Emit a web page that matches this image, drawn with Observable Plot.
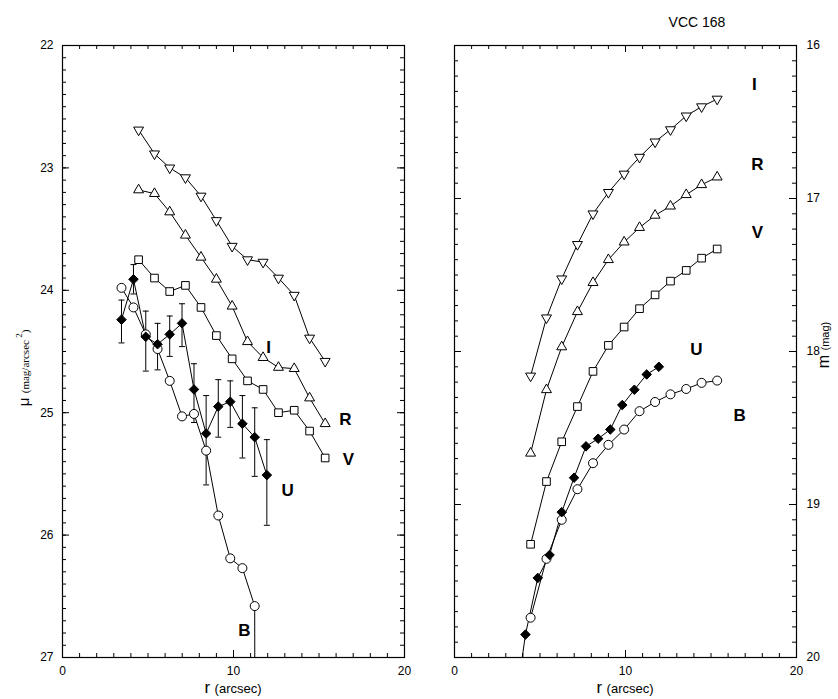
<!DOCTYPE html>
<html>
<head>
<meta charset="utf-8">
<script src="https://cdn.jsdelivr.net/npm/d3@7"></script>
<script src="https://cdn.jsdelivr.net/npm/@observablehq/plot@0.6"></script>
<style>
  body { margin: 0; background: #fff; }
  #chart { position: relative; width: 838px; height: 699px; font-family: "Liberation Sans", Arial, sans-serif; color: #000; overflow: hidden; }
  #chart svg { position: absolute; top: 0; }
  .lbl { position: absolute; white-space: nowrap; line-height: 1; }
  .rot { transform: translate(-50%, -50%) rotate(-90deg); }
  .ctr { transform: translate(-50%, 0); }
</style>
</head>
<body>
<div id="chart"></div>
<script>
// VCC 168 — surface-brightness profiles (left) and growth curves (right) in U, B, V, R, I.

// Radii (arcsec) sampled by the I, R, V profiles and the right-hand B curve
const rIRV = [4.45, 5.38, 6.27, 7.19, 8.10, 9.00, 9.92, 10.82, 11.73, 12.63, 13.55, 14.45, 15.36];
// Radii sampled by the U profiles and the left-hand B profile
const rUB = [3.45, 4.15, 4.87, 5.56, 6.27, 6.99, 7.69, 8.40, 9.11, 9.81, 10.52, 11.24, 11.95];

// Left panel: surface brightness mu (mag/arcsec^2)
const muI = [22.69, 22.885, 23.00, 23.08, 23.23, 23.43, 23.64, 23.75, 23.77, 23.90, 24.04, 24.39, 24.58];
const muR = [23.18, 23.21, 23.36, 23.55, 23.73, 23.91, 24.13, 24.42, 24.55, 24.63, 24.64, 24.88, 25.09];
const muV = [23.75, 23.90, 24.01, 23.96, 24.14, 24.37, 24.56, 24.74, 24.81, 25.00, 24.98, 25.15, 25.37];
const rBLeft = [3.45, 4.15, 4.87, 5.56, 6.27, 6.99, 7.69, 8.40, 9.11, 9.81, 10.52, 11.24, 11.27];
const muB = [23.98, 24.14, 24.36, 24.48, 24.74, 25.03, 25.01, 25.31, 25.84, 26.19, 26.27, 26.58, 30.0];
const muU = [24.24, 23.91, 24.38, 24.44, 24.36, 24.27, 24.81, 25.17, 24.95, 24.91, 25.09, 25.20, 25.51];
const muULow = [24.08, 23.79, 24.17, 24.27, 24.21, 24.11, 24.60, 24.86, 24.73, 24.74, 24.86, 24.96, 25.22];
const muUHigh = [24.43, 24.03, 24.66, 24.65, 24.54, 24.46, 25.08, 25.59, 25.20, 25.12, 25.37, 25.52, 25.92];

// Right panel: integrated magnitude m (mag)
const mI = [18.16, 17.78, 17.525, 17.30, 17.10, 16.96, 16.84, 16.73, 16.63, 16.55, 16.46, 16.40, 16.35];
const mR = [18.665, 18.25, 17.97, 17.74, 17.55, 17.40, 17.285, 17.19, 17.11, 17.05, 16.975, 16.91, 16.86];
const mV = [19.26, 18.85, 18.59, 18.36, 18.13, 17.96, 17.84, 17.72, 17.63, 17.54, 17.47, 17.39, 17.33];
const mB = [19.74, 19.355, 19.10, 18.90, 18.73, 18.61, 18.51, 18.39, 18.33, 18.28, 18.245, 18.205, 18.19];
const mU = [20.4, 19.85, 19.48, 19.33, 19.05, 18.825, 18.62, 18.57, 18.51, 18.35, 18.25, 18.15, 18.10];

// Band labels and where they sit in each panel
const bands = ["I", "R", "V", "U", "B"];
const leftLabelR = [12.05, 16.55, 16.72, 13.16, 10.64];
const leftLabelMu = [24.47, 25.06, 25.38, 25.64, 26.78];
const rightLabelR = [17.54, 17.72, 17.72, 14.15, 16.67];
const rightLabelM = [16.255, 16.78, 17.22, 17.99, 18.42];

// Axis ticks
const xTicks = [0, 10, 20];
const xMinor = d3.range(0, 21);
const muTicks = [22, 23, 24, 25, 26, 27];
const muMinor = d3.range(0, 51).map(i => 22 + i / 10);
const mTicks = [16, 17, 18, 19, 20];
const mMinor = d3.range(0, 41).map(i => 16 + i / 10);

const rows = (rs, vs) => rs.map((r, i) => ({r, v: vs[i]}));

const markerStyle = {
  I: {symbol: "triangle", rotate: 180, r: 3.7, fill: "white"},
  R: {symbol: "triangle", rotate: 0, r: 3.7, fill: "white"},
  V: {symbol: "square", r: 4.3, fill: "white"},
  U: {symbol: "diamond2", r: 4.3, fill: "black"},
  B: {symbol: "circle", r: 4.5, fill: "white"}
};

// Short horizontal stroke used as an error-bar cap
const capSymbol = {
  draw(context, size) {
    const w = Math.sqrt(size / Math.PI);
    context.moveTo(-w, 0);
    context.lineTo(w, 0);
  }
};

const H = 699, MT = 45, MB = 42;
const FW = 342, FH = H - MT - MB;
const MAJOR = 7, MINOR = 4;

function inwardTicks(xMaj, xMin, yMaj, yMin) {
  const out = [];
  for (const [vals, len] of [[xMin, MINOR], [xMaj, MAJOR]]) {
    out.push(Plot.ruleX(vals, {x: d => d, insetTop: FH - len, stroke: "black"}));
    out.push(Plot.ruleX(vals, {x: d => d, insetBottom: FH - len, stroke: "black"}));
  }
  for (const [vals, len] of [[yMin, MINOR], [yMaj, MAJOR]]) {
    out.push(Plot.ruleY(vals, {y: d => d, insetRight: FW - len, stroke: "black"}));
    out.push(Plot.ruleY(vals, {y: d => d, insetLeft: FW - len, stroke: "black"}));
  }
  return out;
}

function seriesMarks(series) {
  const lines = series.map(s => Plot.line(s.data, {x: "r", y: "v", stroke: "black", strokeWidth: 1, clip: true}));
  const dots = series.map(s => {
    const st = markerStyle[s.band];
    return Plot.dot(s.data, {x: "r", y: "v", symbol: st.symbol, rotate: st.rotate || 0, r: st.r,
      fill: st.fill, stroke: "black", strokeWidth: 1, clip: true});
  });
  return {lines, dots};
}

function labelMarks(rs, vs) {
  const data = bands.map((b, i) => ({b, r: rs[i], v: vs[i]}));
  return Plot.text(data, {x: "r", y: "v", text: "b", fontWeight: "bold", fontSize: 17,
    fontFamily: "Liberation Sans, Arial, sans-serif", fill: "black", textAnchor: "middle", lineAnchor: "middle"});
}

const chart = document.getElementById("chart");

// ---- Left panel: surface brightness profiles ----
const leftSeries = [
  {band: "I", data: rows(rIRV, muI)},
  {band: "R", data: rows(rIRV, muR)},
  {band: "V", data: rows(rIRV, muV)},
  {band: "B", data: rows(rBLeft, muB)},
  {band: "U", data: rows(rUB, muU)}
];
const uErr = rUB.map((r, i) => ({r, lo: muULow[i], hi: muUHigh[i]}));
const L = seriesMarks(leftSeries);
const leftPlot = Plot.plot({
  width: 420, height: H,
  marginLeft: 62, marginRight: 16, marginTop: MT, marginBottom: MB,
  style: {fontSize: "12px", fontFamily: "Liberation Sans, Arial, sans-serif", color: "black", background: "transparent", overflow: "visible"},
  x: {domain: [0, 20], ticks: xTicks, tickSize: 0, tickPadding: 9, label: null, tickFormat: d3.format("d")},
  y: {domain: [22, 27], reverse: true, ticks: muTicks, tickSize: 0, tickPadding: 9, label: null, tickFormat: d3.format("d")},
  marks: [
    ...inwardTicks(xTicks, xMinor, muTicks, muMinor),
    ...L.lines,
    Plot.ruleX(uErr, {x: "r", y1: "lo", y2: "hi", stroke: "black", strokeWidth: 1, clip: true}),
    Plot.dot(uErr, {x: "r", y: "lo", symbol: capSymbol, r: 3, stroke: "black", strokeWidth: 1, clip: true}),
    Plot.dot(uErr, {x: "r", y: "hi", symbol: capSymbol, r: 3, stroke: "black", strokeWidth: 1, clip: true}),
    ...L.dots,
    labelMarks(leftLabelR, leftLabelMu),
    Plot.frame({stroke: "black", strokeWidth: 1.2})
  ]
});
leftPlot.style.left = "0px";
chart.appendChild(leftPlot);

// ---- Right panel: growth curves ----
const rightSeries = [
  {band: "I", data: rows(rIRV, mI)},
  {band: "R", data: rows(rIRV, mR)},
  {band: "V", data: rows(rIRV, mV)},
  {band: "B", data: rows(rIRV, mB)},
  {band: "U", data: rows(rUB, mU)}
];
const R = seriesMarks(rightSeries);
const rightPlot = Plot.plot({
  width: 418, height: H,
  marginLeft: 34, marginRight: 42, marginTop: MT, marginBottom: MB,
  style: {fontSize: "12px", fontFamily: "Liberation Sans, Arial, sans-serif", color: "black", background: "transparent", overflow: "visible"},
  x: {domain: [0, 20], ticks: xTicks, tickSize: 0, tickPadding: 9, label: null, tickFormat: d3.format("d")},
  y: {domain: [16, 20], reverse: true, axis: "right", ticks: mTicks, tickSize: 0, tickPadding: 10, label: null, tickFormat: d3.format("d")},
  marks: [
    ...inwardTicks(xTicks, xMinor, mTicks, mMinor),
    ...R.lines,
    ...R.dots,
    labelMarks(rightLabelR, rightLabelM),
    Plot.frame({stroke: "black", strokeWidth: 1.2})
  ]
});
rightPlot.style.left = "420px";
chart.appendChild(rightPlot);

// ---- Titles and axis labels ----
function addLabel(html, x, y, cls, extra) {
  const d = document.createElement("div");
  d.className = "lbl " + cls;
  d.style.left = x + "px";
  d.style.top = y + "px";
  if (extra) Object.assign(d.style, extra);
  d.innerHTML = html;
  chart.appendChild(d);
}
addLabel("VCC 168", 697, 15, "ctr", {fontSize: "14px"});
const xTitle = '<span style="font-size:17px">r</span> <span style="font-size:13px">(arcsec)</span>';
addLabel(xTitle, 233, 679, "ctr");
addLabel(xTitle, 625, 679, "ctr");
addLabel('<span style="font-size:15px">&mu;</span> <span style="font-family:\'Liberation Serif\',serif;font-size:11px">(mag/arcsec<sup style="font-size:9px;vertical-align:7px"> 2</sup>)</span>', 23, 368, "rot");
addLabel('<span style="font-size:16px">m</span> <span style="font-size:11px">(mag)</span>', 824, 345, "rot");
</script>
</body>
</html>
